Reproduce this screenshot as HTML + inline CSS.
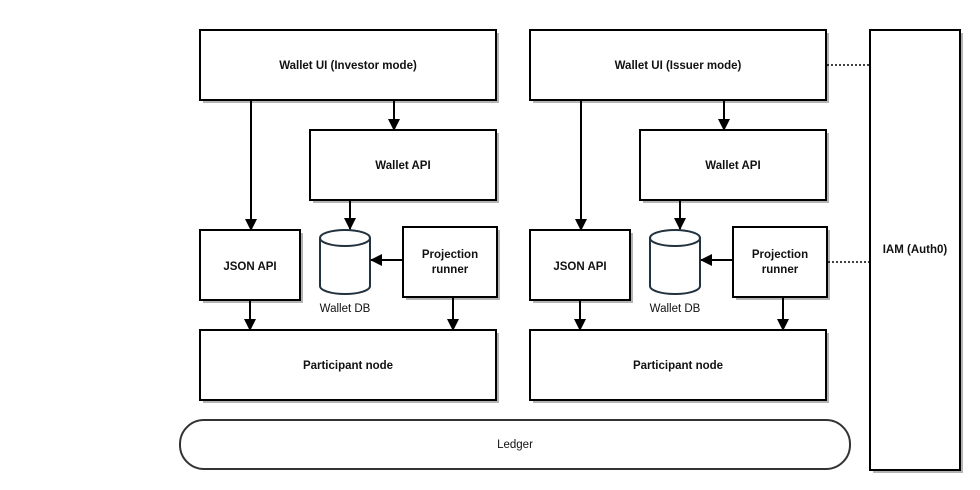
<!DOCTYPE html>
<html><head><style>html,body{margin:0;padding:0;background:#fff}svg{display:block}</style></head>
<body>
<svg width="980" height="490" viewBox="0 0 980 490" xmlns="http://www.w3.org/2000/svg" font-family="Liberation Sans, sans-serif" font-size="11.5">
<defs>
<marker id="a" markerWidth="12" markerHeight="12" refX="11" refY="6" orient="auto" markerUnits="userSpaceOnUse"><path d="M0,0 L12,6 L0,12 z" fill="#000"/></marker>
</defs>
<g id="grp">
<g fill="#b4b4b4">
<rect x="203" y="33" width="296" height="70"/>
<rect x="313" y="133" width="186" height="70"/>
<rect x="203" y="233" width="100" height="70"/>
<rect x="406" y="230" width="94" height="70"/>
<rect x="203" y="333" width="296" height="70"/>
</g>
<g fill="#fff" stroke="#000" stroke-width="2">
<rect x="200" y="30" width="296" height="70"/>
<rect x="310" y="130" width="186" height="70"/>
<rect x="200" y="230" width="100" height="70"/>
<rect x="403" y="227" width="94" height="70"/>
<rect x="200" y="330" width="296" height="70"/>
</g>
<path d="M320,238 v48 a25,8 0 0 0 50,0 v-48 a25,8 0 0 0 -50,0 a25,8 0 0 0 50,0" fill="#fff" stroke="#23323f" stroke-width="2"/>
<g stroke="#000" stroke-width="2" fill="none" marker-end="url(#a)">
<line x1="251" y1="100" x2="251" y2="230"/>
<line x1="394" y1="100" x2="394" y2="130"/>
<line x1="350" y1="200" x2="350" y2="229"/>
<line x1="403" y1="260" x2="371" y2="260"/>
<line x1="250" y1="300" x2="250" y2="330"/>
<line x1="453" y1="297" x2="453" y2="330"/>
</g>
<g fill="#111" text-anchor="middle" font-weight="bold">
<text x="348" y="69">Wallet UI (Investor mode)</text>
<text x="403" y="169">Wallet API</text>
<text x="250" y="270">JSON API</text>
<text x="450" y="258">Projection</text>
<text x="450" y="273">runner</text>
<text x="348" y="369">Participant node</text>
</g>
<text x="345" y="312" text-anchor="middle" fill="#111">Wallet DB</text>
</g>
<use href="#grp" transform="translate(330,0)"/>
<rect x="530" y="30" width="296" height="70" fill="#fff" stroke="#000" stroke-width="2"/>
<text x="678" y="69" text-anchor="middle" font-weight="bold" fill="#111">Wallet UI (Issuer mode)</text>
<rect x="873" y="33" width="90" height="440" fill="#b4b4b4"/>
<rect x="870" y="30" width="90" height="440" fill="#fff" stroke="#000" stroke-width="2"/>
<text x="915" y="253" text-anchor="middle" font-weight="bold" fill="#111">IAM (Auth0)</text>
<g stroke="#000" stroke-width="1.5" stroke-dasharray="2,2">
<line x1="827" y1="65" x2="870" y2="65"/>
<line x1="828" y1="262" x2="870" y2="262"/>
</g>
<rect x="180" y="420" width="670" height="49" rx="24" ry="24" fill="#fff" stroke="#333" stroke-width="2"/>
<text x="515" y="448" text-anchor="middle" fill="#111">Ledger</text>
</svg>
</body></html>
